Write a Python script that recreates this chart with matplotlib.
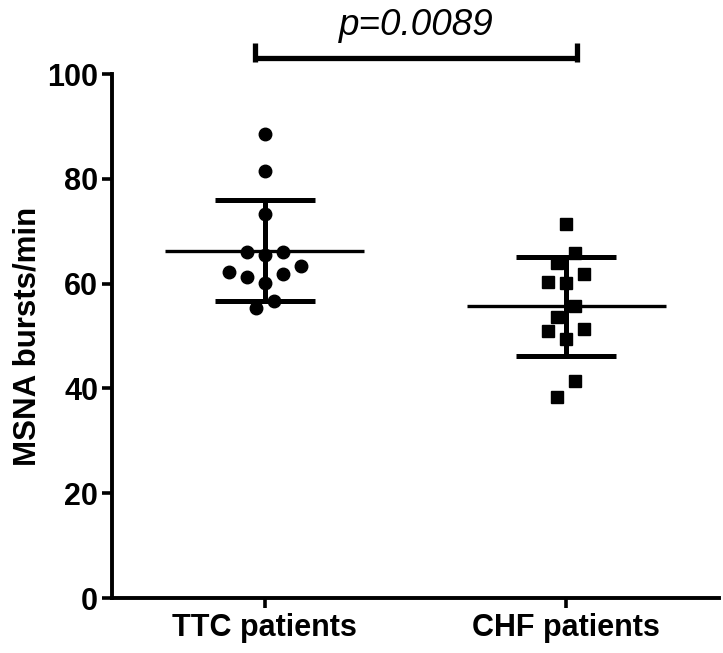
import numpy as np
import matplotlib
matplotlib.use("Agg")
import matplotlib.pyplot as plt

# ---- data ----
categories = ["TTC patients", "CHF patients"]
ttc_values = [88.5, 81.5, 73.3, 66.0, 66.0, 65.5, 62.3, 63.4, 61.3, 61.8, 60.2, 56.7, 55.4]
chf_values = [71.4, 65.9, 64.0, 61.8, 60.4, 60.1, 55.7, 53.6, 51.0, 51.3, 49.4, 41.4, 38.4]
group_means = [66.3, 55.7]
group_sds = [9.7, 9.45]
y_ticks = [0, 20, 40, 60, 80, 100]
p_label = "p=0.0089"
y_label = "MSNA bursts/min"

# ---- layout (scatter slot positions, not data) ----
ttc_slots = [0, 0, 0, -2, 2, 0, -4, 4, -2, 2, 0, 1, -1]
chf_slots = [0, 1, -1, 2, -2, 0, 1, -1, -2, 2, 0, 1, -1]
slot_step = 0.0298

plt.rcParams['font.family'] = ['Liberation Sans', 'DejaVu Sans']

fig = plt.figure(figsize=(7.23, 6.53), dpi=100)
ax = fig.add_axes([112/723, 1 - 598/653, (719-112)/723, (598-74)/653])

groups = [ttc_values, chf_values]
slots = [ttc_slots, chf_slots]
markers = ['o', 's']
msizes = [9.0, 9.0]
for i, (vals, sl) in enumerate(zip(groups, slots)):
    xs = i + np.array(sl) * slot_step
    ax.plot(xs, vals, linestyle='none', marker=markers[i], ms=msizes[i],
            color='black', mec='black', zorder=3, clip_on=False)
    m, s = group_means[i], group_sds[i]
    # mean line
    ax.plot([i - 0.33, i + 0.33], [m, m], color='black', lw=2.4, solid_capstyle='butt', zorder=4)
    # SD vertical line
    ax.plot([i, i], [m - s, m + s], color='black', lw=3.6, solid_capstyle='butt', zorder=4)
    # SD caps
    for yv in (m - s, m + s):
        ax.plot([i - 0.165, i + 0.165], [yv, yv], color='black', lw=3.6,
                solid_capstyle='butt', zorder=4)

ax.set_xlim(-0.507, 1.507)
ax.set_ylim(0, 100)
ax.set_xticks([0, 1])
ax.set_xticklabels(categories, fontsize=22, fontweight='bold')
ax.set_yticks(y_ticks)
ax.set_yticklabels([str(t) for t in y_ticks], fontsize=22, fontweight='bold')
ax.set_ylabel(y_label, fontsize=22.5, fontweight='bold', labelpad=3.5)

for side in ['top', 'right']:
    ax.spines[side].set_visible(False)
for side in ['left', 'bottom']:
    ax.spines[side].set_linewidth(2.8)
    ax.spines[side].set_capstyle('projecting')
ax.tick_params(axis='both', direction='out', length=7, width=2.6, color='black', pad=3)
ax.tick_params(axis='x', pad=4)

# significance bracket
bx0, bx1 = -0.034, 1.037
by, btop = 103.0, 106.0
ax.plot([bx0, bx1], [by, by], color='black', lw=3.8, solid_capstyle='butt', clip_on=False)
ax.plot([bx0, bx0], [by - 0.8, btop], color='black', lw=3.8, solid_capstyle='butt', clip_on=False)
ax.plot([bx1, bx1], [by - 0.8, btop], color='black', lw=3.8, solid_capstyle='butt', clip_on=False)
ax.text((bx0 + bx1) / 2, 107.4, p_label, fontsize=26.5, fontstyle='italic',
        ha='center', va='baseline', clip_on=False)

fig.savefig("out.png", dpi=100)
